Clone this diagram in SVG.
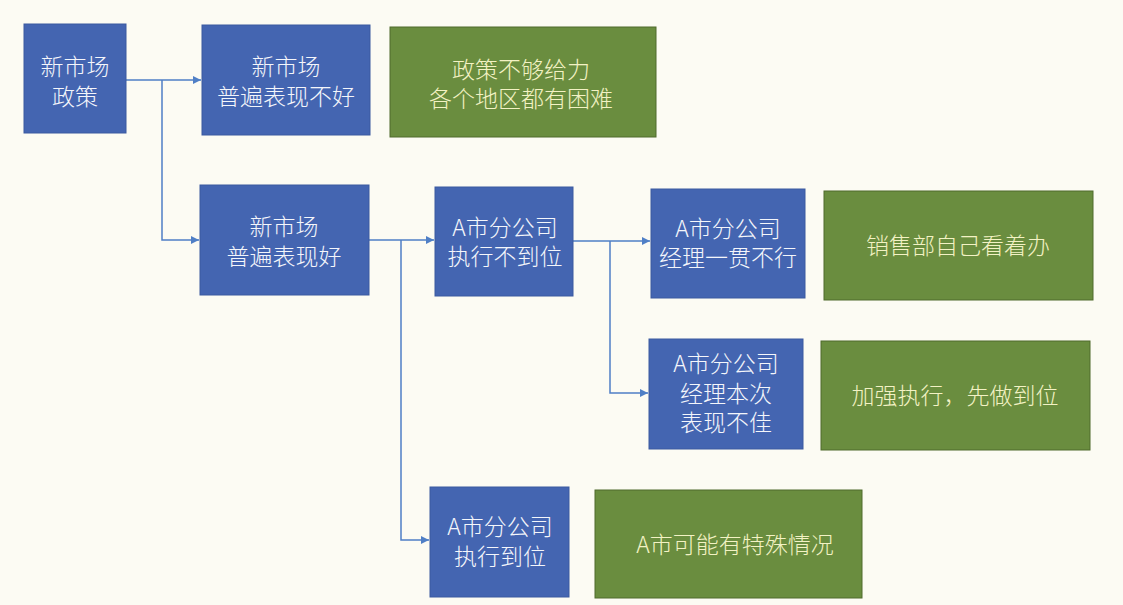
<svg xmlns="http://www.w3.org/2000/svg" width="1123" height="605" viewBox="0 0 1123 605">
<defs>
<marker id="ah" viewBox="0 0 10 10" refX="10" refY="5" markerWidth="8" markerHeight="8" markerUnits="userSpaceOnUse" orient="auto">
<path d="M0,0 L10,5 L0,10 z" fill="#4f7fc6"/>
</marker>
<style>
.b{fill:#4465b1;stroke:#3a5aa0;stroke-width:1}
.g{fill:#6a8d3f;stroke:#4f6b2c;stroke-width:1}
.tb{fill:#f4f6fb;font-family:"Noto Sans CJK SC","Noto Sans",sans-serif;font-size:23px;font-weight:300;text-anchor:middle}
.tg{fill:#f3f2c4;font-family:"Noto Sans CJK SC","Noto Sans",sans-serif;font-size:23px;font-weight:300;text-anchor:middle}
.c{fill:none;stroke:#4f7fc6;stroke-width:1.5}
</style>
</defs>
<rect width="1123" height="605" fill="#fcfbf3"/>
<g id="connectors">
<path class="c" d="M126,80 H201" marker-end="url(#ah)"/>
<path class="c" d="M162,80 V240 H199" marker-end="url(#ah)"/>
<path class="c" d="M369,240 H434" marker-end="url(#ah)"/>
<path class="c" d="M401,240 V540 H429" marker-end="url(#ah)"/>
<path class="c" d="M573,241 H650" marker-end="url(#ah)"/>
<path class="c" d="M610,241 V393 H648" marker-end="url(#ah)"/>
</g>
<g id="n1"><rect class="b" x="24" y="24" width="102" height="109"/>
<text class="tb" x="75" y="75">新市场</text><text class="tb" x="75" y="105">政策</text></g>
<g id="n2"><rect class="b" x="202" y="25" width="168" height="110"/>
<text class="tb" x="286" y="75">新市场</text><text class="tb" x="286" y="105">普遍表现不好</text></g>
<g id="g1"><rect class="g" x="390" y="27" width="266" height="110"/>
<text class="tg" x="521" y="78">政策不够给力</text><text class="tg" x="521" y="107">各个地区都有困难</text></g>
<g id="n3"><rect class="b" x="200" y="185" width="169" height="110"/>
<text class="tb" x="284" y="235">新市场</text><text class="tb" x="284" y="265">普遍表现好</text></g>
<g id="n4"><rect class="b" x="435" y="187" width="138" height="109"/>
<text class="tb" x="505" y="236">A市分公司</text><text class="tb" x="505" y="265">执行不到位</text></g>
<g id="n5"><rect class="b" x="651" y="189" width="154" height="109"/>
<text class="tb" x="728" y="237">A市分公司</text><text class="tb" x="728" y="266">经理一贯不行</text></g>
<g id="g2"><rect class="g" x="824" y="191" width="269" height="109"/>
<text class="tg" x="958" y="254">销售部自己看着办</text></g>
<g id="n6"><rect class="b" x="649" y="339" width="154" height="110"/>
<text class="tb" x="726" y="372">A市分公司</text><text class="tb" x="726" y="402">经理本次</text><text class="tb" x="726" y="431">表现不佳</text></g>
<g id="g3"><rect class="g" x="821" y="341" width="269" height="109"/>
<text class="tg" x="955" y="404">加强执行，先做到位</text></g>
<g id="n7"><rect class="b" x="430" y="487" width="139" height="110"/>
<text class="tb" x="500" y="535">A市分公司</text><text class="tb" x="500" y="565">执行到位</text></g>
<g id="g4"><rect class="g" x="595" y="490" width="267" height="108"/>
<text class="tg" x="735" y="553">A市可能有特殊情况</text></g>
</svg>
